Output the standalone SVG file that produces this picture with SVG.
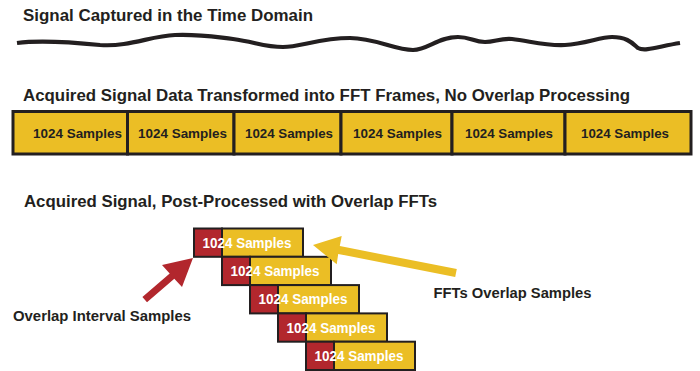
<svg xmlns="http://www.w3.org/2000/svg" width="700" height="371" viewBox="0 0 700 371">
<style>
text{font-family:"Liberation Sans",Arial,Helvetica,sans-serif;font-weight:bold;fill:#231F20}
.title{font-size:16.3px}
.lbl{font-size:14.3px}
.cell{fill:#EBBE25;stroke:#231F20;stroke-width:3}
.ct{font-size:13.5px;text-anchor:middle}
.red{fill:#B2272D;stroke:#231F20;stroke-width:2}
.yel{fill:#EBBE25;stroke:#231F20;stroke-width:2}
.wt{font-size:13.8px;fill:#FFFFFF}
</style>
<rect width="700" height="371" fill="#FFFFFF"/>
<text class="title" x="23" y="21" textLength="290" lengthAdjust="spacingAndGlyphs">Signal Captured in the Time Domain</text>
<path id="signal" d="M17,43 C40,40 70,42 100,45 C130,47 150,36 175,35 C200,34 215,37 233,39 C255,42 265,47 283,47 C300,47 320,38 350,38 C375,38 395,50 413,50 C428,50 438,37 458,37 C470,37 474,42 485,42 C495,42 500,38 512,39 C530,41 545,46 565,45 C585,44 600,37 612,37 C628,37 633,44 638,48 C645,52 660,46 680,43" fill="none" stroke="#231F20" stroke-width="4.2" stroke-linecap="butt"/>
<text class="title" x="23" y="101" textLength="607" lengthAdjust="spacingAndGlyphs">Acquired Signal Data Transformed into FFT Frames, No Overlap Processing</text>
<g id="frames">
<rect class="cell" x="13" y="111.5" width="114.5" height="42.5"/>
<rect class="cell" x="127.5" y="111.5" width="106.5" height="42.5"/>
<rect class="cell" x="234" y="111.5" width="107" height="42.5"/>
<rect class="cell" x="341" y="111.5" width="111" height="42.5"/>
<rect class="cell" x="452" y="111.5" width="113" height="42.5"/>
<rect class="cell" x="565" y="111.5" width="126" height="42.5"/>
<text class="ct" x="77.5" y="137.5" textLength="89" lengthAdjust="spacingAndGlyphs">1024 Samples</text>
<text class="ct" x="182.5" y="137.5" textLength="89" lengthAdjust="spacingAndGlyphs">1024 Samples</text>
<text class="ct" x="289" y="137.5" textLength="88" lengthAdjust="spacingAndGlyphs">1024 Samples</text>
<text class="ct" x="397.5" y="137.5" textLength="89" lengthAdjust="spacingAndGlyphs">1024 Samples</text>
<text class="ct" x="509" y="137.5" textLength="88" lengthAdjust="spacingAndGlyphs">1024 Samples</text>
<text class="ct" x="625" y="137.5" textLength="88" lengthAdjust="spacingAndGlyphs">1024 Samples</text>
</g>
<text class="title" x="24" y="207" textLength="413" lengthAdjust="spacingAndGlyphs">Acquired Signal, Post-Processed with Overlap FFTs</text>
<g id="frame1">
<rect class="red" x="194" y="228.5" width="28" height="28.3"/>
<rect class="yel" x="222" y="228.5" width="81" height="28.3"/>
<text class="wt" x="202.5" y="247.8" textLength="89" lengthAdjust="spacingAndGlyphs">1024 Samples</text>
</g>
<g id="frame2">
<rect class="red" x="222" y="256.8" width="28" height="28.3"/>
<rect class="yel" x="250" y="256.8" width="81" height="28.3"/>
<text class="wt" x="230.5" y="276.1" textLength="89" lengthAdjust="spacingAndGlyphs">1024 Samples</text>
</g>
<g id="frame3">
<rect class="red" x="250" y="285.1" width="28" height="28.3"/>
<rect class="yel" x="278" y="285.1" width="81" height="28.3"/>
<text class="wt" x="258.5" y="304.4" textLength="89" lengthAdjust="spacingAndGlyphs">1024 Samples</text>
</g>
<g id="frame4">
<rect class="red" x="278" y="313.4" width="28" height="28.3"/>
<rect class="yel" x="306" y="313.4" width="81" height="28.3"/>
<text class="wt" x="286.5" y="332.7" textLength="89" lengthAdjust="spacingAndGlyphs">1024 Samples</text>
</g>
<g id="frame5">
<rect class="red" x="306" y="341.7" width="28" height="28.3"/>
<rect class="yel" x="334" y="341.7" width="81" height="28.3"/>
<text class="wt" x="314.5" y="361" textLength="89" lengthAdjust="spacingAndGlyphs">1024 Samples</text>
</g>
<g id="connectors">
<polygon fill="#B2272D" points="193,258 162,265 169.7,273.4 142.4,296.9 147,302.2 174.3,278.7 182,287"/>
<polygon fill="#EBBE25" points="313,245 341.7,236 339.8,246.1 456.8,269.1 455.2,276.9 338.2,253.9 336.7,264.3"/>
</g>
<g id="label-overlap-interval">
<text class="lbl" x="13" y="321" textLength="178" lengthAdjust="spacingAndGlyphs">Overlap Interval Samples</text>
</g>
<g id="label-fft-overlap">
<text class="lbl" x="433.5" y="298" textLength="158" lengthAdjust="spacingAndGlyphs">FFTs Overlap Samples</text>
</g>
</svg>
